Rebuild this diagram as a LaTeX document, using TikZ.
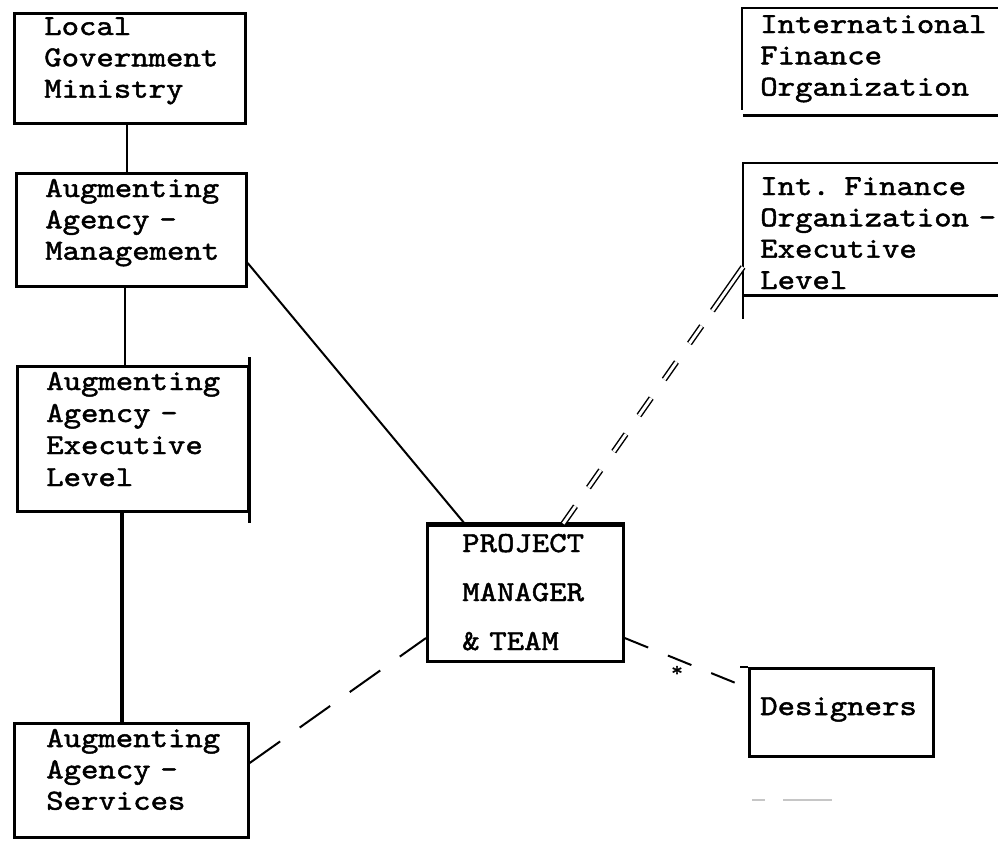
\documentclass[tikz,border=0pt]{standalone}
\usepackage{fontspec}
\newfontfamily\tw{lmmono10-regular}[Extension=.otf, FakeStretch=1.14, FakeBold=1.6]
\usetikzlibrary{calc}
\begin{document}
\begin{tikzpicture}[x=0.75pt,y=-0.75pt,
  box/.style={draw, line width=2pt, anchor=north west, inner sep=0pt},
  ghost/.style={anchor=north west, inner sep=0pt},
  edge/.style={line width=2pt},
  txt/.style={font=\tw\fontsize{21.8}{23.5}\selectfont, anchor=base west, inner sep=0pt, align=left, text width=220pt},
  link/.style={line width=1.5pt},
  dlink/.style={line width=1.5pt, dash pattern=on 28pt off 18pt},
  ddlink/.style={double, line width=1.1pt, double distance=2.2pt}
]
\useasboundingbox (0,0) rectangle (998,840);

% boxes
\node[box, minimum width=231*0.75pt, minimum height=110*0.75pt] (lgm) at (13,12) {};
\node[txt] (lgmt) at (44,35) {Local\\Government\\Ministry};

\node[box, minimum width=230*0.75pt, minimum height=113*0.75pt] (aam) at (15,172) {};
\node[txt] (aamt) at (45,197) {Augmenting\\Agency -\\Management};

\node[box, minimum width=231*0.75pt, minimum height=145*0.75pt] (aae) at (16,365) {};
\node[txt, font=\tw\fontsize{21.8}{24}\selectfont] (aaet) at (46,390) {Augmenting\\Agency -\\Executive\\Level};
\draw[edge] (aae.north east) ++(0,-8) -- ($(aae.south east)+(0,10)$);

\node[box, minimum width=234*0.75pt, minimum height=114*0.75pt] (aas) at (13,722) {};
\node[txt] (aast) at (46,747) {Augmenting\\Agency -\\Services};

\node[ghost, minimum width=256*0.75pt, minimum height=107*0.75pt] (ifo) at (742,8) {};
\draw[edge] (ifo.north east) -- (ifo.north west) -- ($(ifo.south west)+(0,-6)$);
\draw[edge] ($(ifo.south west)+(1,0)$) -- (ifo.south east);
\node[txt] (ifot) at (760,33) {International\\Finance\\Organization};

\node[ghost, minimum width=255*0.75pt, minimum height=132*0.75pt] (ifoe) at (743,163) {};
\draw[edge] (ifoe.north east) -- (ifoe.north west) -- ($(ifoe.south west)+(0,23)$);
\draw[edge] (ifoe.south west) -- (ifoe.south east);
\node[txt] (ifoet) at (760,195) {Int. Finance\\Organization -\\Executive\\Level};

\node[box, minimum width=196*0.75pt, minimum height=136*0.75pt] (pm) at (426,524) {};
\draw[line width=3pt] (pm.north west) -- (pm.north east);
\node[txt, font=\tw\fontsize{21.8}{36.75}\selectfont] (pmt) at (462,552) {PROJECT\\MANAGER\\\& TEAM};

\node[box, minimum width=184*0.75pt, minimum height=88*0.75pt] (des) at (748,667) {};
\draw[edge] (des.north west) -- ++(-8,0);
\node[txt] (dest) at (760,715) {Designers};

% connectors
\draw[link] (lgm.south -| 127,0) -- (aam.north -| 127,0);
\draw[link] (aam.south -| 125,0) -- (aae.north -| 125,0);
\draw[line width=2.6pt] (aae.south -| 122,0) -- (aas.north -| 122,0);
\draw[link] (aam.east |- 0,263) -- (pm.north -| 465,0);
\draw[dlink] (aas.east |- 0,763) -- (pm.west |- 0,638);
\draw[link, dash pattern=on 19pt off 16pt] (pm.east |- 0,638) -- (des.west |- 0,688);
\coordinate (dd1) at ($(ifoe.west |- 0,267)!40pt!(pm.north -| 563,0)$);
\draw[ddlink] (ifoe.west |- 0,267) -- (dd1);
\draw[ddlink, dash pattern=on 16pt off 17pt, dash phase=-14pt] (dd1) -- (pm.north -| 563,0);
\node[font=\tw\fontsize{15}{15}\selectfont, inner sep=0pt] (star) at (677,671) {*};

% faint marks
\draw[gray!45, line width=1pt] (752,800) -- (765,800);
\draw[gray!45, line width=1pt] (783,800) -- (832,800);
\end{tikzpicture}
\end{document}
